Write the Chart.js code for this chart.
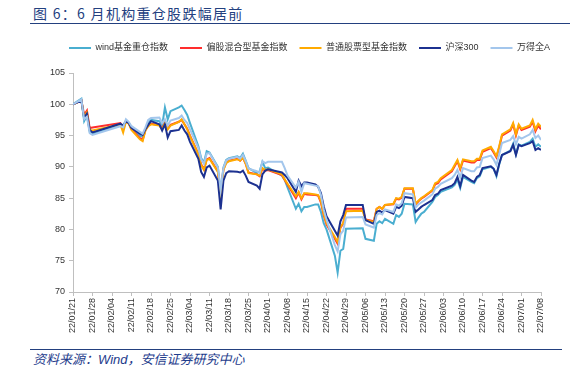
<!DOCTYPE html>
<html>
<head>
<meta charset="utf-8">
<script src="https://cdn.jsdelivr.net/npm/chart.js@4.4.1/dist/chart.umd.min.js"></script>
<style>
  body { margin: 0; width: 581px; height: 375px; background: #fff; position: relative; overflow: hidden;
         font-family: "Liberation Sans", "Noto Sans CJK SC", sans-serif; }
  #title { position: absolute; left: 33px; top: 5px; font-size: 14px; line-height: 16px; letter-spacing: 1.3px;
           color: #23407f; font-family: "Noto Sans CJK SC", sans-serif; }
  #topLine { position: absolute; left: 30px; top: 23px; width: 540px; border-top: 1.5px solid #23407f; }
  #box { position: absolute; left: 0; top: 0; width: 581px; height: 340px; }
  #bottomLine { position: absolute; left: 30px; top: 349px; width: 532px; border-top: 1.5px solid #23407f; }
  #source { position: absolute; left: 33px; top: 353px; font-size: 13px; line-height: 14px; font-style: italic;
            color: #1e3c8c; font-family: "Liberation Sans", "Noto Sans CJK SC", sans-serif; }
</style>
</head>
<body>
<div id="title">图 6：6 月机构重仓股跌幅居前</div>
<div id="topLine"></div>
<div id="box"><canvas id="chart"></canvas></div>
<div id="bottomLine"></div>
<div id="source">资料来源：Wind，安信证券研究中心</div>

<script>
// 交易日 (2022)
const dates = [
  '01/21','01/24','01/25','01/26','01/27','01/28',
  '02/07','02/08','02/09','02/10','02/11','02/14','02/15','02/16','02/17','02/18',
  '02/21','02/22','02/23','02/24','02/25','02/28',
  '03/01','03/02','03/03','03/04','03/07','03/08','03/09','03/10','03/11',
  '03/14','03/15','03/16','03/17','03/18','03/21','03/22','03/23','03/24','03/25',
  '03/28','03/29','03/30','03/31','04/01','04/06','04/07','04/08',
  '04/11','04/12','04/13','04/14','04/15','04/18','04/19','04/20','04/21','04/22',
  '04/25','04/26','04/27','04/28','04/29','05/05','05/06',
  '05/09','05/10','05/11','05/12','05/13','05/16','05/17','05/18','05/19','05/20',
  '05/23','05/24','05/25','05/26','05/27','05/30','05/31','06/01','06/02',
  '06/06','06/07','06/08','06/09','06/10','06/13','06/14','06/15','06/16','06/17',
  '06/20','06/21','06/22','06/23','06/24','06/27','06/28','06/29','06/30','07/01',
  '07/04','07/05','07/06','07/07','07/08'
];

const windFund = [
  100,100.9,97.3,98.2,95.6,95.3,
  96.7,96.5,97.4,97.0,96.3,95.0,94.8,96.0,97.0,97.5,
  97.3,96.6,99.5,97.6,98.9,99.5,
  99.8,99.1,98.3,97.0,93.3,91.4,90.7,92.5,92.3,
  90.0,86.0,89.9,91.1,91.4,91.7,91.4,92.1,91.0,89.8,
  89.0,89.3,90.8,89.8,89.9,88.6,87.9,86.7,
  83.3,84.1,82.9,83.6,83.6,84.0,84.0,82.8,81.0,80.0,
  75.8,73.1,76.6,76.9,80.1,80.2,78.5,
  78.2,80.9,81.3,81.0,81.7,80.9,82.3,82.0,82.5,84.1,
  84.0,81.2,81.9,82.5,82.8,84.4,85.2,85.5,86.0,
  86.7,87.1,88.0,86.6,88.4,87.6,87.4,88.2,88.5,89.6,
  90.0,89.7,88.5,90.4,91.9,92.6,93.7,92.0,93.6,93.4,
  94.0,94.5,93.2,93.6,93.2
];

const mixedFund = [
  100,100.6,98.3,99.0,96.2,96.3,
  97.0,96.0,97.3,97.0,96.0,94.6,94.3,95.9,96.6,96.9,
  96.7,96.1,97.1,96.1,96.7,97.2,
  97.5,96.8,96.1,95.0,92.1,90.4,89.6,91.2,91.4,
  89.3,85.5,89.6,90.7,91.0,91.3,91.0,91.5,90.5,89.1,
  88.8,88.5,89.7,89.4,89.5,88.7,87.9,87.2,
  85.0,85.9,84.8,85.7,85.6,85.5,85.4,84.3,82.3,80.8,
  78.5,77.7,80.3,80.9,83.3,83.3,81.6,
  81.3,83.3,83.6,83.3,83.9,84.0,84.9,84.8,85.1,86.5,
  86.5,84.0,84.5,84.9,85.2,86.2,87.2,87.4,88.0,
  89.3,90.1,90.9,89.6,91.0,90.7,90.7,91.1,91.1,92.4,
  93.0,92.3,91.5,93.1,95.0,95.8,96.8,95.0,96.6,95.9,
  96.4,97.2,95.7,96.6,96.0
];

const stockFund = [
  100,100.6,98.0,98.7,95.9,95.8,
  96.8,95.5,97.2,96.9,95.9,94.4,94.1,95.8,96.5,96.8,
  96.6,96.0,97.0,96.0,96.6,97.2,
  97.6,96.8,96.0,94.9,92.0,90.3,89.5,91.1,91.3,
  89.2,85.2,89.5,90.6,90.9,91.2,91.0,91.5,90.5,89.0,
  88.8,88.6,89.8,89.5,89.6,88.8,88.0,87.3,
  85.3,86.0,85.0,85.8,85.8,85.6,85.5,84.5,82.5,81.0,
  78.8,78.0,80.4,81.0,82.9,83.0,81.5,
  81.2,83.3,83.6,83.3,83.9,84.1,85.0,84.9,85.2,86.6,
  86.6,84.1,84.6,85.0,85.3,86.3,87.4,87.6,88.2,
  89.5,90.3,91.1,89.8,91.2,90.9,90.9,91.3,91.3,92.6,
  93.2,92.5,91.7,93.3,95.2,96.0,97.0,95.2,96.8,96.1,
  96.6,97.5,96.0,96.9,96.4
];

const hs300 = [
  100,100.6,97.8,98.5,95.9,95.5,
  96.9,96.6,97.3,97.0,96.2,95.3,95.1,96.0,96.7,97.3,
  96.8,95.8,96.8,94.7,95.7,95.9,
  96.6,95.8,95.2,94.0,91.3,89.2,88.4,89.9,90.2,
  87.8,83.2,87.8,89.0,89.3,89.2,89.1,89.4,88.6,87.6,
  87.0,86.5,88.8,89.4,89.6,89.1,88.7,88.2,
  86.0,87.8,86.9,87.5,87.5,87.2,86.8,85.8,83.7,82.1,
  79.8,79.0,81.3,82.3,83.9,83.9,81.5,
  80.9,82.8,83.0,82.7,83.1,82.5,83.6,83.4,83.8,85.2,
  85.0,82.8,83.2,83.6,83.9,84.7,85.5,85.7,86.3,
  87.0,87.4,88.4,86.9,88.7,87.8,87.6,88.4,88.7,89.8,
  90.1,89.7,88.7,90.5,91.9,92.5,93.5,91.9,93.5,93.3,
  93.8,94.1,92.7,93.0,92.7
];

const windA = [
  100,100.8,97.6,98.0,95.4,95.1,
  96.5,96.3,97.6,97.2,96.5,95.6,95.3,96.3,97.5,97.8,
  97.9,97.0,97.6,96.6,97.4,97.8,
  98.2,97.5,97.0,96.0,93.0,91.2,90.5,92.1,92.2,
  89.9,86.3,89.8,91.0,91.3,91.6,91.3,91.9,90.9,89.7,
  89.3,89.0,90.9,90.6,90.8,90.8,89.8,88.6,
  86.7,87.6,86.0,87.4,87.3,87.0,86.9,85.5,83.2,81.6,
  77.5,76.5,79.2,79.8,81.9,82.0,80.8,
  80.3,82.3,82.6,82.4,83.2,82.8,84.0,83.8,84.2,85.8,
  85.6,83.5,84.0,84.3,84.6,85.6,86.5,86.8,87.3,
  88.2,88.7,89.5,88.3,89.8,89.3,89.3,89.9,90.0,91.4,
  91.8,91.2,90.3,92.0,93.8,94.3,94.9,93.6,94.8,94.5,
  95.2,95.9,94.6,95.0,94.3
];

const tickLabels = [
  '22/01/21','22/01/28','22/02/04','22/02/11','22/02/18','22/02/25','22/03/04',
  '22/03/11','22/03/18','22/03/25','22/04/01','22/04/08','22/04/15','22/04/22',
  '22/04/29','22/05/06','22/05/13','22/05/20','22/05/27','22/06/03','22/06/10',
  '22/06/17','22/06/24','22/07/01','22/07/08'
];

// 日期 -> 距 1/21 的天数 (日期轴)
const base = new Date(2022, 0, 21);
const dayIdx = dates.map(s => {
  const [m, d] = s.split('/').map(Number);
  return Math.round((new Date(2022, m - 1, d) - base) / 86400000);
});
const toPoints = arr => arr.map((v, i) => ({ x: dayIdx[i], y: v }));

const series = [
  { label: 'wind基金重仓指数', data: windFund, color: '#4aaed0' },
  { label: '偏股混合型基金指数', data: mixedFund, color: '#ff2d2d' },
  { label: '普通股票型基金指数', data: stockFund, color: '#ffaa00' },
  { label: '沪深300', data: hs300, color: '#1c3190' },
  { label: '万得全A', data: windA, color: '#a3c6ec' }
];

// 图例下方留白 + 图例整体右移
const legendTweak = {
  id: 'legendTweak',
  beforeInit(chart) {
    const fit = chart.legend.fit;
    chart.legend.fit = function () { fit.bind(chart.legend)(); this.height += 10.5; };
  },
  afterLayout(chart) {
    chart.legend.left += 39;
    chart.legend.right += 39;
  }
};

const axisColor = '#bfbfbf';
const tickFont = { size: 9, family: '"Liberation Sans", "Noto Sans CJK SC", sans-serif' };

new Chart(document.getElementById('chart'), {
  type: 'line',
  data: {
    datasets: series.map((s, i) => ({
      label: s.label,
      data: toPoints(s.data),
      borderColor: s.color,
      backgroundColor: s.color,
      borderWidth: 2,
      pointRadius: 0,
      tension: 0,
      order: series.length - i
    }))
  },
  options: {
    responsive: true,
    maintainAspectRatio: false,
    animation: false,
    layout: { padding: { top: 31.5, right: 40, left: 0, bottom: 0 } },
    plugins: {
      legend: {
        position: 'top',
        labels: {
          boxWidth: 22,
          boxHeight: 0,
          padding: 12,
          color: '#333',
          font: { size: 9, family: '"Liberation Sans", "Noto Sans CJK SC", sans-serif' },
          sort: (a, b) => a.datasetIndex - b.datasetIndex
        }
      },
      tooltip: { enabled: false }
    },
    scales: {
      x: {
        type: 'linear',
        min: 0,
        max: 168,
        afterFit: s => { s.height = 48; },
        afterBuildTicks: s => { s.ticks = tickLabels.map((_, i) => ({ value: i * 7 })); },
        ticks: {
          autoSkip: false,
          maxRotation: 90,
          minRotation: 90,
          padding: 2,
          color: '#333',
          font: tickFont,
          callback: v => tickLabels[v / 7]
        },
        grid: { drawOnChartArea: false, drawTicks: true, tickLength: 4, color: axisColor },
        border: { display: true, color: axisColor }
      },
      y: {
        min: 70,
        max: 105,
        afterFit: s => { s.width = 73; },
        ticks: { stepSize: 5, padding: 4, color: '#333', font: tickFont },
        grid: { drawOnChartArea: false, drawTicks: true, tickLength: 4, color: axisColor },
        border: { display: true, color: axisColor }
      }
    }
  },
  plugins: [legendTweak]
});
</script>
</body>
</html>
